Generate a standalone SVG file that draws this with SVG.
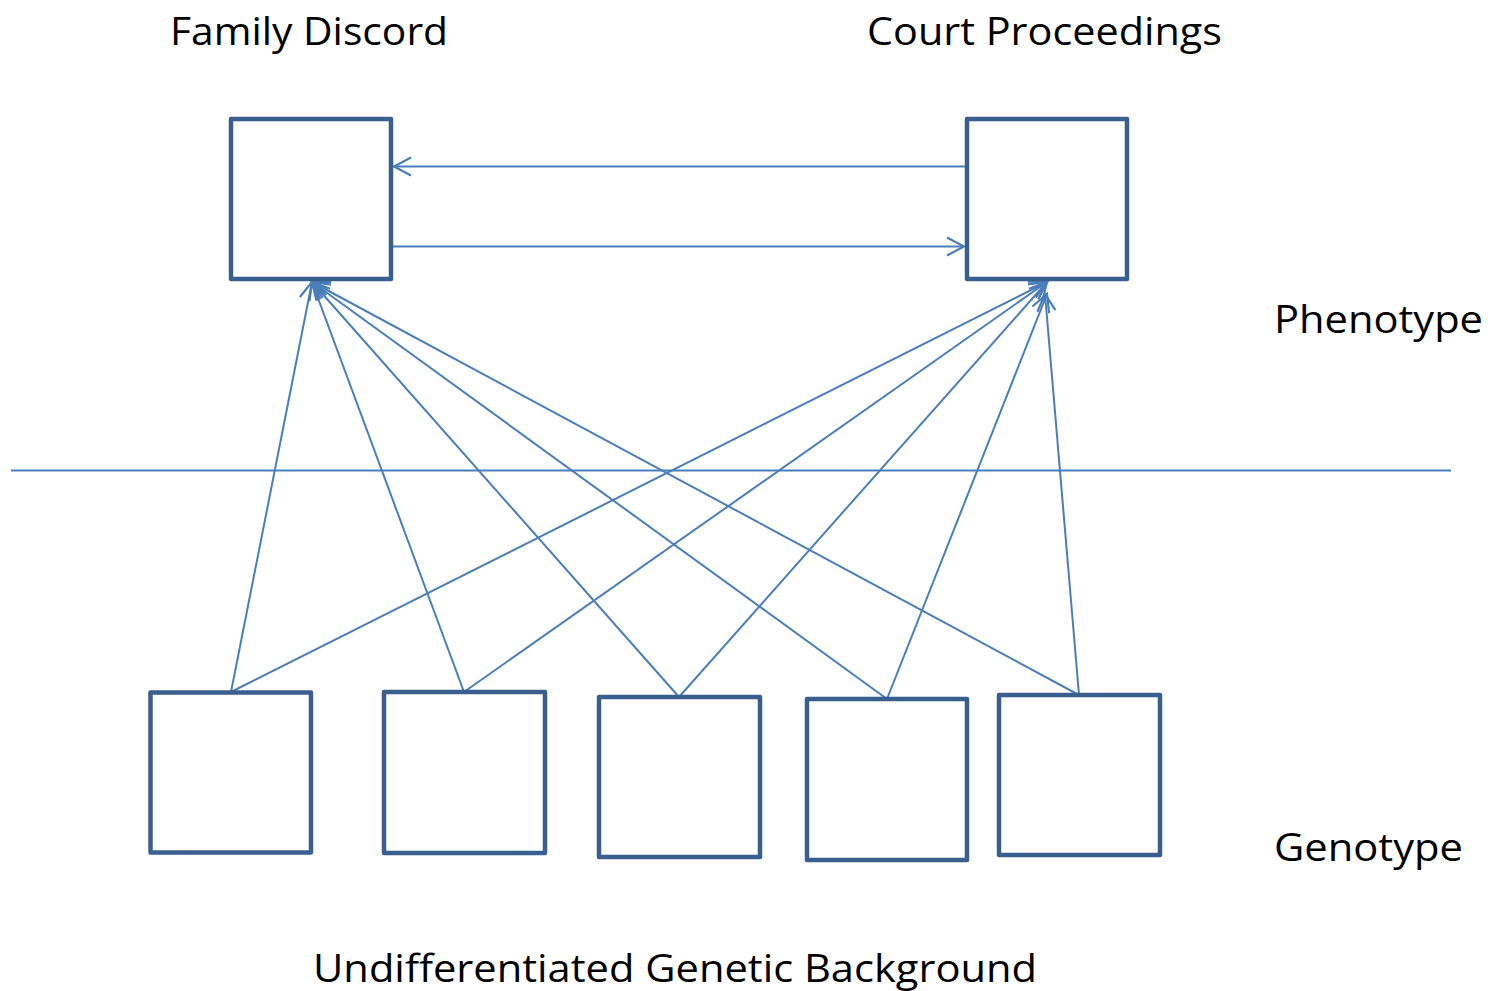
<svg xmlns="http://www.w3.org/2000/svg" width="1488" height="991" viewBox="0 0 1488 991">
<defs>
<style>
.box{fill:#ffffff;stroke:#3A5F8F;stroke-width:4.5;stroke-linejoin:round}
.con{fill:none;stroke:#4A7EBB;stroke-width:2}
.lbl{font-family:"Open Sans","Liberation Sans",sans-serif;font-size:38px;fill:#000}
</style>
<marker id="arr" markerUnits="userSpaceOnUse" markerWidth="22" markerHeight="22" viewBox="0 0 22 22" refX="19" refY="11" orient="auto">
<path d="M2,2 L19,11 L2,20" fill="none" stroke="#4A7EBB" stroke-width="2.2"/>
</marker>
</defs>
<rect width="1488" height="991" fill="#ffffff"/>
<g id="connectors">
<line class="con" x1="11" y1="470.5" x2="1451" y2="470.5"/>
<line class="con" x1="965" y1="166.5" x2="394" y2="166.5" marker-end="url(#arr)"/>
<line class="con" x1="393" y1="246.5" x2="964" y2="246.5" marker-end="url(#arr)"/>
<line class="con" x1="231" y1="692" x2="312" y2="282" marker-end="url(#arr)"/>
<line class="con" x1="464" y1="692" x2="312" y2="282" marker-end="url(#arr)"/>
<line class="con" x1="679" y1="697" x2="312" y2="282" marker-end="url(#arr)"/>
<line class="con" x1="887" y1="699" x2="312" y2="282" marker-end="url(#arr)"/>
<line class="con" x1="1079" y1="695" x2="312" y2="282" marker-end="url(#arr)"/>
<line class="con" x1="231" y1="692" x2="1047" y2="282" marker-end="url(#arr)"/>
<line class="con" x1="464" y1="692" x2="1047" y2="282" marker-end="url(#arr)"/>
<line class="con" x1="679" y1="697" x2="1047" y2="282" marker-end="url(#arr)"/>
<line class="con" x1="887" y1="699" x2="1047" y2="294" marker-end="url(#arr)"/>
<line class="con" x1="1079" y1="695" x2="1045" y2="294" marker-end="url(#arr)"/>
</g>
<g id="family-discord">
<rect class="box" x="231" y="119" width="160" height="160"/>
<text class="lbl" x="170" y="45" textLength="278" lengthAdjust="spacingAndGlyphs">Family Discord</text>
</g>
<g id="court-proceedings">
<rect class="box" x="967" y="119" width="160" height="160"/>
<text class="lbl" x="867" y="45" textLength="355" lengthAdjust="spacingAndGlyphs">Court Proceedings</text>
</g>
<g id="gene-1"><rect class="box" x="150.5" y="692.5" width="160.5" height="160"/></g>
<g id="gene-2"><rect class="box" x="384" y="692" width="161" height="161"/></g>
<g id="gene-3"><rect class="box" x="599" y="697" width="161" height="160"/></g>
<g id="gene-4"><rect class="box" x="807" y="699" width="160" height="161"/></g>
<g id="gene-5"><rect class="box" x="999" y="695" width="161" height="160"/></g>
<g id="labels">
<text class="lbl" x="1274" y="333" textLength="209" lengthAdjust="spacingAndGlyphs">Phenotype</text>
<text class="lbl" x="1274" y="861" textLength="189" lengthAdjust="spacingAndGlyphs">Genotype</text>
<text class="lbl" x="313" y="982" textLength="724" lengthAdjust="spacingAndGlyphs">Undifferentiated Genetic Background</text>
</g>
</svg>
